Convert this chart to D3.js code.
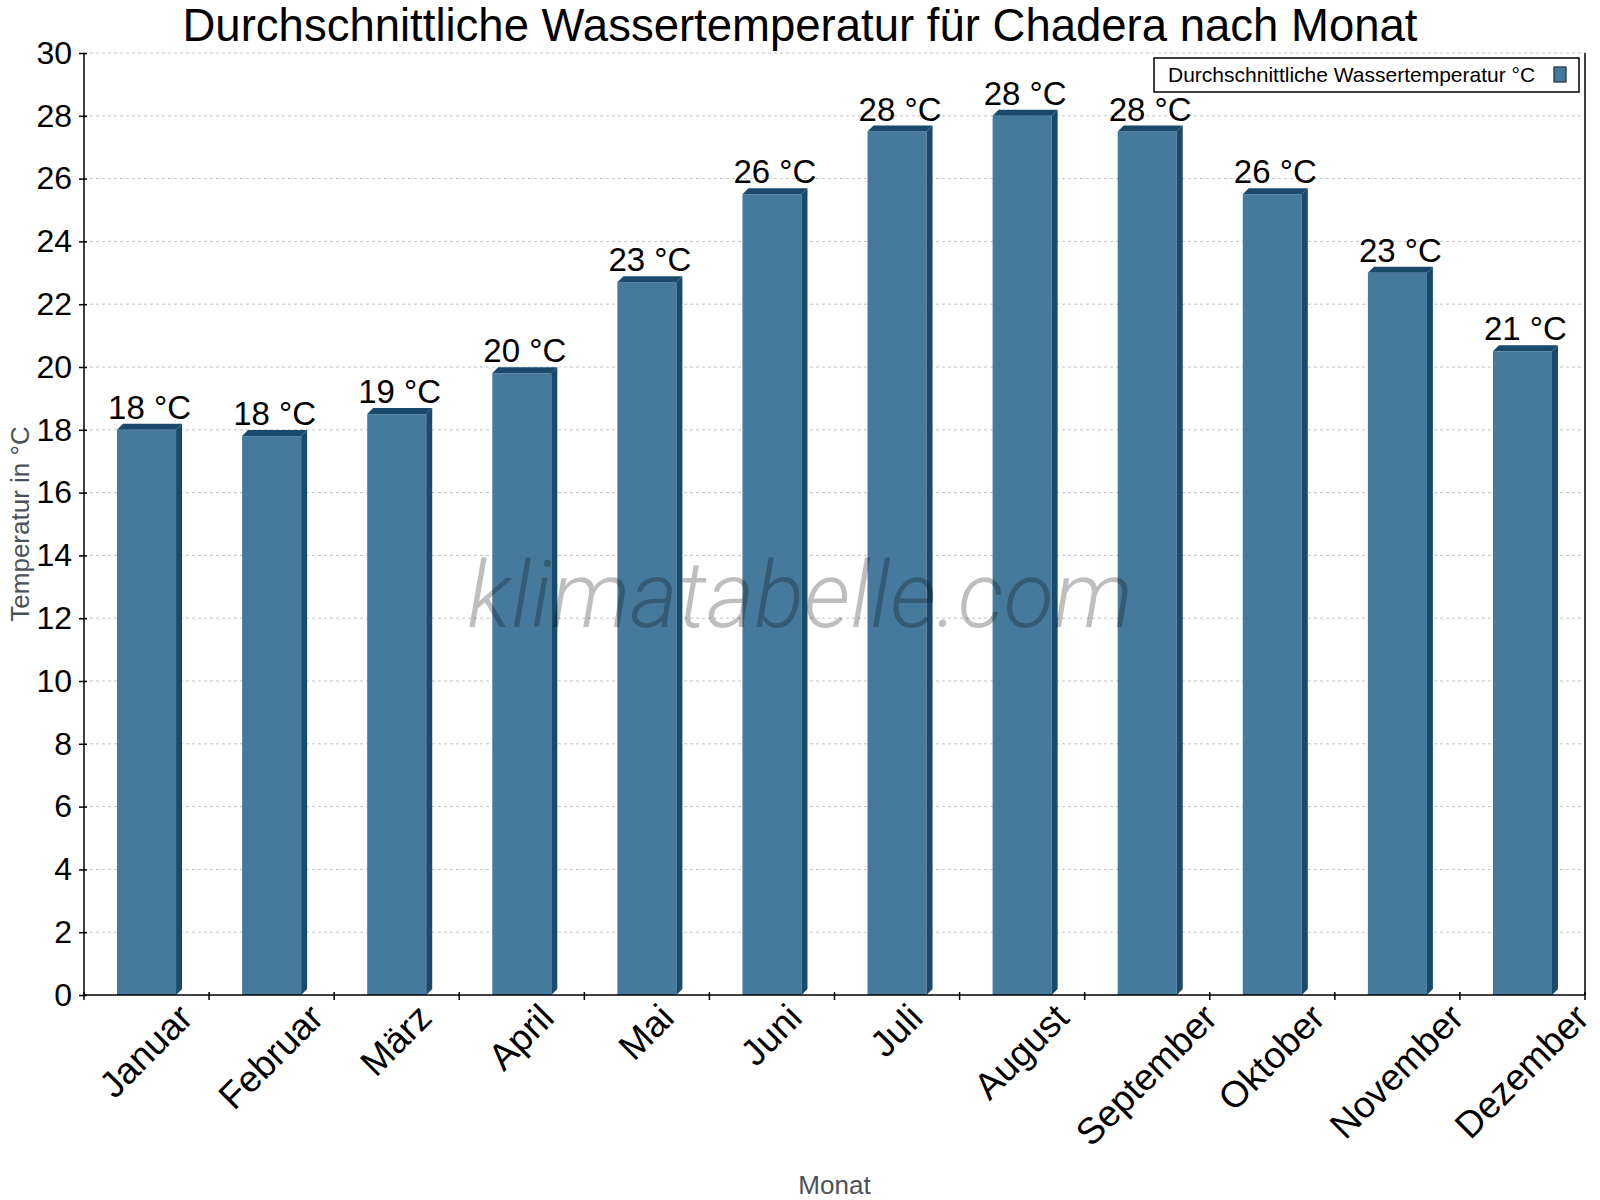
<!DOCTYPE html>
<html>
<head>
<meta charset="utf-8">
<script src="https://cdn.jsdelivr.net/npm/d3@7"></script>
<style>
  body { margin: 0; background: #fff; }
  svg { display: block; font-family: "Liberation Sans", Arial, sans-serif; }
</style>
</head>
<body>
<div id="chart"></div>
<script>
var months = ['Januar', 'Februar', 'März', 'April', 'Mai', 'Juni', 'Juli', 'August', 'September', 'Oktober', 'November', 'Dezember'];
var waterTemp = [18.0, 17.8, 18.5, 19.8, 22.7, 25.5, 27.5, 28.0, 27.5, 25.5, 23.0, 20.5];
var yTicks = [0, 2, 4, 6, 8, 10, 12, 14, 16, 18, 20, 22, 24, 26, 28, 30];

var titleText = 'Durchschnittliche Wassertemperatur für Chadera nach Monat';
var legendText = 'Durchschnittliche Wassertemperatur °C';
var yTitle = 'Temperatur in °C';
var xTitle = 'Monat';

var W = 1600, H = 1200;
var margins = {top: 53, right: 15, bottom: 205, left: 84};
var plotW = W - margins.left - margins.right;
var plotH = H - margins.top - margins.bottom;
var depth = 6;
var front = '#467a9c', dark = '#194a6c';

var svg = d3.select('#chart').append('svg')
	.attr('width', W)
	.attr('height', H);

var xscale = d3.scaleBand().domain(months).range([margins.left, margins.left + plotW]).padding(0);
var yscale = d3.scaleLinear().domain([0, 30]).range([margins.top + plotH, margins.top]);
var bw = xscale.bandwidth();
var y0 = yscale(0);

// grid
svg.append('g').selectAll('line').data(yTicks.filter(function(d) { return d > 0; }))
	.enter().append('line')
	.attr('x1', margins.left).attr('x2', margins.left + plotW)
	.attr('y1', function(d) { return yscale(d); })
	.attr('y2', function(d) { return yscale(d); })
	.style('stroke', '#c4c4c4')
	.style('stroke-width', 1)
	.style('stroke-dasharray', '3,3');

// bars
var bars = svg.append('g').selectAll('g').data(waterTemp).enter().append('g');

function bx(i) { return xscale(months[i]) + bw * 0.264; }
var fw = bw * 0.472;

bars.append('rect')
	.attr('x', function(d, i) { return bx(i); })
	.attr('y', function(d) { return yscale(d); })
	.attr('width', fw)
	.attr('height', function(d) { return y0 - yscale(d); })
	.style('fill', front);

bars.append('path')
	.attr('d', function(d, i) {
		var x0 = bx(i), x1 = x0 + fw, yt = yscale(d);
		return 'M' + x0 + ',' + yt + 'L' + (x0 + depth) + ',' + (yt - depth) +
			'L' + (x1 + depth) + ',' + (yt - depth) + 'L' + x1 + ',' + yt + 'Z';
	})
	.style('fill', dark);

bars.append('path')
	.attr('d', function(d, i) {
		var x1 = bx(i) + fw, yt = yscale(d);
		return 'M' + x1 + ',' + yt + 'L' + (x1 + depth) + ',' + (yt - depth) +
			'L' + (x1 + depth) + ',' + (y0 - depth) + 'L' + x1 + ',' + y0 + 'Z';
	})
	.style('fill', dark);

bars.append('text')
	.attr('x', function(d, i) { return bx(i) + (fw + depth) / 2; })
	.attr('y', function(d) { return yscale(d) - depth - 5; })
	.attr('text-anchor', 'middle')
	.style('font-size', '33px')
	.style('fill', '#000')
	.text(function(d) { return Math.round(d) + ' °C'; });

// y axis
var vaxis = d3.axisLeft(yscale).tickValues(yTicks).tickSize(5).tickPadding(7);
var vguide = svg.append('g').attr('transform', 'translate(' + margins.left + ',0)');
vaxis(vguide);
vguide.select('.domain').remove();
vguide.selectAll('line').attr('x1', 3).attr('x2', -5).style('stroke', '#000').style('stroke-width', 1.5);
vguide.selectAll('text').style('font-size', '32px').style('fill', '#000').style('font-family', '"Liberation Sans", Arial, sans-serif');

svg.append('line')
	.attr('x1', margins.left).attr('x2', margins.left)
	.attr('y1', margins.top).attr('y2', y0)
	.style('stroke', '#000').style('stroke-width', 1.5);
svg.append('line')
	.attr('x1', margins.left + plotW).attr('x2', margins.left + plotW)
	.attr('y1', margins.top).attr('y2', y0)
	.style('stroke', '#000').style('stroke-width', 1.5);

// x axis
svg.append('line')
	.attr('x1', margins.left).attr('x2', margins.left + plotW)
	.attr('y1', y0).attr('y2', y0)
	.style('stroke', '#000').style('stroke-width', 1.5);

var bounds = months.map(function(m) { return xscale(m); }).concat([margins.left + plotW]);
svg.append('g').selectAll('line').data(bounds).enter().append('line')
	.attr('x1', function(d) { return d; }).attr('x2', function(d) { return d; })
	.attr('y1', y0 - 3).attr('y2', y0 + 5)
	.style('stroke', '#000').style('stroke-width', 1.5);

var xfs = 37;
var xl = svg.append('g').selectAll('text').data(months).enter().append('text')
	.attr('text-anchor', 'end')
	.style('font-size', xfs + 'px')
	.style('fill', '#000')
	.text(function(d) { return d; });
xl.attr('transform', function(d) {
	var L = this.getComputedTextLength();
	var cx = xscale(d) + bw / 2;
	var px = cx + 0.3535 * (L + 0.62 * xfs);
	var py = y0 + 25;
	return 'translate(' + px + ',' + py + ') rotate(-45)';
});

// axis titles
svg.append('text')
	.attr('x', margins.left + plotW / 2)
	.attr('y', 1194)
	.attr('text-anchor', 'middle')
	.style('font-size', '26px')
	.style('fill', '#4a525a')
	.text(xTitle);

svg.append('text')
	.attr('transform', 'translate(29,' + (margins.top + plotH / 2) + ') rotate(-90)')
	.attr('text-anchor', 'middle')
	.style('font-size', '26px')
	.style('fill', '#4a525a')
	.text(yTitle);

// title
svg.append('text')
	.attr('x', W / 2)
	.attr('y', 41)
	.attr('text-anchor', 'middle')
	.style('font-size', '45.5px')
	.style('fill', '#000')
	.text(titleText);

// legend
var lg = svg.append('g');
lg.append('rect')
	.attr('x', 1154).attr('y', 58)
	.attr('width', 1579 - 1154).attr('height', 34)
	.style('fill', '#fff').style('stroke', '#000').style('stroke-width', 1.5);
lg.append('text')
	.attr('x', 1168).attr('y', 82)
	.style('font-size', '21px')
	.style('fill', '#000')
	.text(legendText);
lg.append('rect')
	.attr('x', 1554).attr('y', 67)
	.attr('width', 12).attr('height', 15)
	.style('fill', front).style('stroke', '#1a2a36').style('stroke-width', 1.2);

// watermark
svg.append('text')
	.attr('x', W / 2)
	.attr('y', 627)
	.attr('text-anchor', 'middle')
	.style('font-family', 'Roboto, sans-serif')
	.style('font-style', 'italic')
	.style('font-weight', 300)
	.style('font-size', '92px')
	.style('fill', '#000')
	.style('opacity', 0.25)
	.text('klimatabelle.com');
</script>
</body>
</html>
